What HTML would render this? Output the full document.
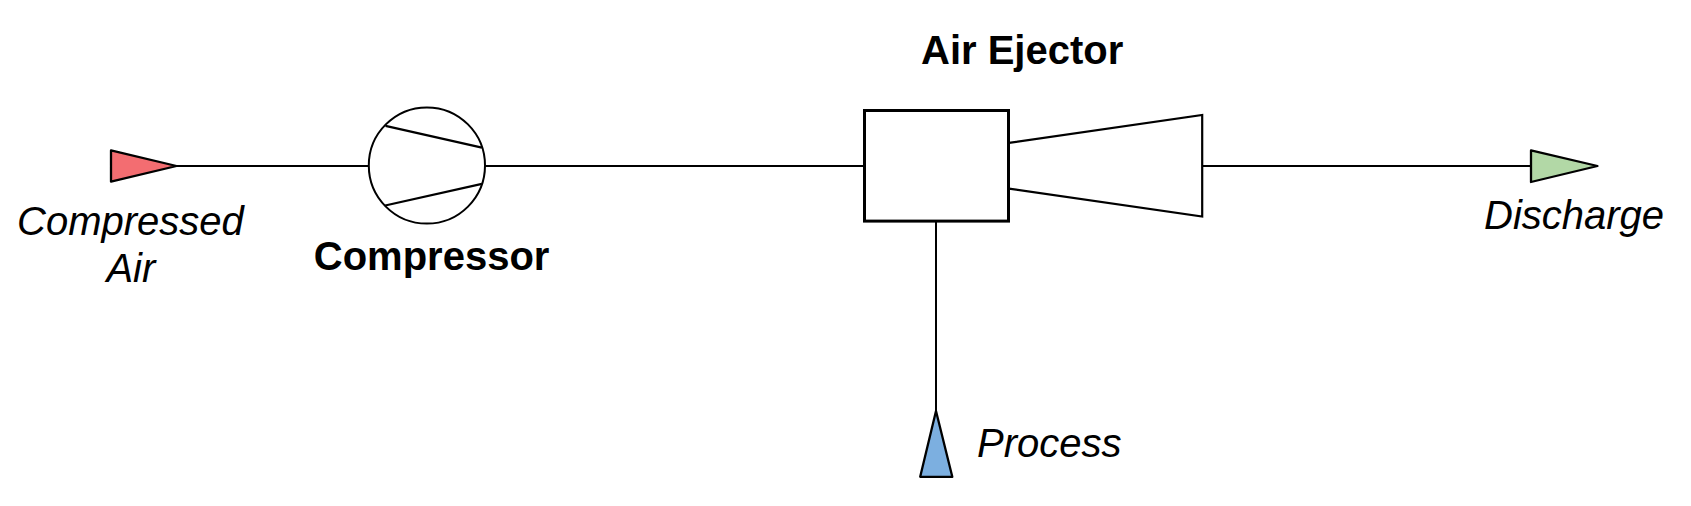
<!DOCTYPE html>
<html><head><meta charset="utf-8"><style>
html,body{margin:0;padding:0;background:#fff;}
body{width:1691px;height:506px;overflow:hidden;}
svg{display:block;}
text{font-family:"Liberation Sans",sans-serif;fill:#000;font-size:40px;}
.b{font-weight:bold;}
.i{font-style:italic;}
</style></head><body>
<svg width="1691" height="506" viewBox="0 0 1691 506" xmlns="http://www.w3.org/2000/svg">
<g stroke="#000" stroke-width="2" fill="none">
<line x1="175" y1="166" x2="369" y2="166"/>
<line x1="485" y1="166" x2="864" y2="166"/>
<line x1="1202" y1="166" x2="1531" y2="166"/>
<line x1="936" y1="221" x2="936" y2="412"/>
<circle cx="426.9" cy="165.5" r="58.1"/>
<line stroke-width="2.2" x1="385.5" y1="125.9" x2="481.9" y2="147.6"/>
<line stroke-width="2.2" x1="385.2" y1="205.5" x2="481.9" y2="183.9"/>
<path stroke-width="2.2" stroke-linejoin="miter" d="M1009,142.85 L1202.2,115 L1202.2,216.5 L1009,188.6"/>
</g>
<rect x="864.5" y="110.5" width="144" height="110.6" fill="#fff" stroke="#000" stroke-width="3"/>
<g stroke="#000" stroke-width="2.3" stroke-linejoin="round">
<polygon points="111,150.4 176.5,166 111,181.6" fill="#f36d71"/>
<polygon points="1531,150.4 1597.5,166 1531,182" fill="#b2d8a6"/>
<polygon points="936,411 952.3,476.8 920.2,476.8" fill="#7cafe0"/>
</g>
<text class="b" x="921" y="64">Air Ejector</text>
<text class="b" x="313.8" y="270">Compressor</text>
<text class="i" x="17" y="234.8">Compressed</text>
<text class="i" x="106.4" y="282">Air</text>
<text class="i" x="1484" y="229.4">Discharge</text>
<text class="i" x="977" y="456.8">Process</text>
</svg>
</body></html>
